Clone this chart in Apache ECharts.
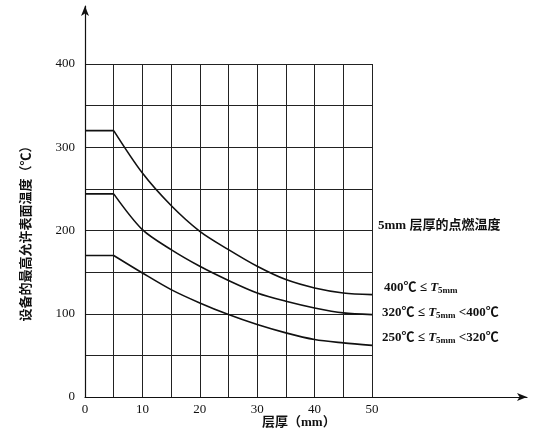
<!DOCTYPE html>
<html><head><meta charset="utf-8">
<script src="https://cdn.jsdelivr.net/npm/echarts@6/dist/echarts.min.js"></script>
<style>html,body{margin:0;background:#fff}#c{width:535px;height:434px}</style>
</head><body><div id="c"></div>
<script>
// layer thickness (mm)
const thickness = [0, 5, 10, 15, 20, 25, 30, 35, 40, 45, 50];
// max allowed surface temperature per ignition-temperature class
const curveHigh = [320, 320, 269, 230, 199, 177, 157, 141, 131, 125, 123];
const curveMid = [244, 244, 201, 177, 157, 140, 125, 115, 107, 101, 99];
const curveLow = [170, 170, 149, 129, 113, 99, 87, 77, 69, 65, 62];

const font = 'Liberation Serif, Noto Sans CJK SC, serif';
const pair = arr => thickness.map((x, i) => [x, arr[i]]);
// flat part (0-5 mm) straight, the rest smoothed, so the corner at 5 mm stays sharp
const line = (name, arr) => {
    const pts = pair(arr);
    const style = { color: '#111', width: 1.6 };
    return [
        { name, type: 'line', data: pts.slice(0, 2), symbol: 'none', lineStyle: style },
        { name, type: 'line', data: pts.slice(1), smooth: 0.3, symbol: 'none', lineStyle: style },
    ];
};

const chart = echarts.init(document.getElementById('c'));
chart.setOption({
    backgroundColor: '#fff',
    animation: false,
    grid: [
        { left: 85, right: 163, top: 64, bottom: 37 },
        { left: 85, right: 8, top: 6, bottom: 37 },
    ],
    xAxis: [
        {
            type: 'value', min: 0, max: 50, interval: 5, gridIndex: 0,
            axisLine: { show: false }, axisTick: { show: false },
            axisLabel: { formatter: v => (v % 10 === 0 ? v : ''), color: '#111', fontFamily: font, fontSize: 13, margin: 6 },
            splitLine: { show: true, lineStyle: { color: '#222', width: 1 } },
        },
        {
            type: 'value', min: 0, max: 1, gridIndex: 1,
            axisLine: { show: true, onZero: false, symbol: ['none', 'arrow'], symbolSize: [6, 10], lineStyle: { color: '#111', width: 1.2 } },
            axisTick: { show: false }, axisLabel: { show: false }, splitLine: { show: false },
        },
    ],
    yAxis: [
        {
            type: 'value', min: 0, max: 400, interval: 50, gridIndex: 0,
            axisLine: { show: false }, axisTick: { show: false },
            axisLabel: { formatter: v => (v % 100 === 0 ? v : ''), color: '#111', fontFamily: font, fontSize: 13, margin: 10 },
            splitLine: { show: true, lineStyle: { color: '#222', width: 1 } },
            name: '设备的最高允许表面温度（℃）', nameLocation: 'middle', nameRotate: 90, nameGap: 52,
            nameTextStyle: { color: '#111', fontFamily: font, fontSize: 13, fontWeight: 'bold' },
        },
        {
            type: 'value', min: 0, max: 1, gridIndex: 1,
            axisLine: { show: true, onZero: false, symbol: ['none', 'arrow'], symbolSize: [6, 10], lineStyle: { color: '#111', width: 1.2 } },
            axisTick: { show: false }, axisLabel: { show: false }, splitLine: { show: false },
        },
    ],
    series: [
        ...line('400℃≤T5mm', curveHigh),
        ...line('320℃≤T5mm<400℃', curveMid),
        ...line('250℃≤T5mm<320℃', curveLow),
    ],
    graphic: [
        { type: 'text', left: 262, top: 416, style: { text: '层厚（mm）', font: 'bold 13px ' + font, fill: '#111' } },
        { type: 'text', left: 378, top: 219, style: { text: '5mm 层厚的点燃温度', font: 'bold 13px ' + font, fill: '#111' } },
        {
            type: 'text', left: 384, top: 281, style: {
                text: '{n|400℃ ≤ }{i|T}{s|5mm}', fill: '#111',
                rich: { n: { font: 'bold 13px ' + font }, i: { font: 'italic bold 13px ' + font }, s: { font: 'bold 9px ' + font, padding: [6, 0, 0, 0] } },
            },
        },
        {
            type: 'text', left: 382, top: 306, style: {
                text: '{n|320℃ ≤ }{i|T}{s|5mm}{n| <400℃}', fill: '#111',
                rich: { n: { font: 'bold 13px ' + font }, i: { font: 'italic bold 13px ' + font }, s: { font: 'bold 9px ' + font, padding: [6, 0, 0, 0] } },
            },
        },
        {
            type: 'text', left: 382, top: 331, style: {
                text: '{n|250℃ ≤ }{i|T}{s|5mm}{n| <320℃}', fill: '#111',
                rich: { n: { font: 'bold 13px ' + font }, i: { font: 'italic bold 13px ' + font }, s: { font: 'bold 9px ' + font, padding: [6, 0, 0, 0] } },
            },
        },
    ],
});
</script></body></html>
